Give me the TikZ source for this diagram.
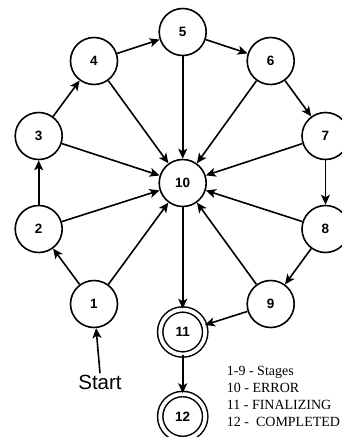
\documentclass[tikz,border=0pt]{standalone}
\usepackage{fontspec}
\setmainfont{Liberation Serif}
\setsansfont{Liberation Sans}
\usetikzlibrary{arrows.meta}
\tikzset{
  stage/.style={circle, draw, line width=1.6pt, minimum size=47pt, inner sep=0pt, font=\sffamily\bfseries\fontsize{13.5}{15}\selectfont},
  final/.style={stage, double distance=3.8pt, double=white, line width=1.5pt, minimum size=45pt},
  edge/.style={line width=1.6pt, -{Stealth[length=10pt,width=9pt,inset=2.5pt]}},
  legend/.style={anchor=base west, inner sep=0pt, font=\fontsize{14}{16}\selectfont}
}
\begin{document}
\begin{tikzpicture}[x=1pt,y=-1pt]
\useasboundingbox (0,0) rectangle (342,437);
\clip (0,0) rectangle (342,437);
\node[stage] (n1) at (94,304) {1};
\node[stage] (n2) at (38.7,229) {2};
\node[stage] (n3) at (38.7,136) {3};
\node[stage] (n4) at (94,61) {4};
\node[stage] (n5) at (182.7,32) {5};
\node[stage] (n6) at (270.7,61) {6};
\node[stage] (n7) at (325.5,136) {7};
\node[stage] (n8) at (325.5,229) {8};
\node[stage] (n9) at (270.7,304) {9};
\node[stage] (n10) at (182.7,183) {10};
\node[final] (n11) at (182.7,332) {11};
\node[final] (n12) at (182.7,416.5) {12};
\node[inner sep=2pt, font=\sffamily\fontsize{20.5}{22}\selectfont] (start) at (100,382.7) {Start};

\draw[edge] (start.north) -- (n1);
\draw[edge] (n1) -- (n2);
\draw[edge] (n1) -- (n10);
\draw[edge] (n2) -- (n3);
\draw[edge] (n2) -- (n10);
\draw[edge] (n3) -- (n4);
\draw[edge] (n3) -- (n10);
\draw[edge] (n4) -- (n5);
\draw[edge] (n4) -- (n10);
\draw[edge] (n5) -- (n6);
\draw[edge] (n5) -- (n10);
\draw[edge] (n6) -- (n7);
\draw[edge] (n6) -- (n10);
\draw[edge] (n7) -- (n8);
\draw[edge] (n7) -- (n10);
\draw[edge] (n8) -- (n9);
\draw[edge] (n8) -- (n10);
\draw[edge] (n9) -- (n10);
\draw[edge] (n9) -- (n11);
\draw[edge] (n10) -- (n11);
\draw[edge] (n11) -- (n12);

\node[legend] (l1) at (226.7,375) {1-9 - Stages};
\node[legend] (l2) at (226.7,392) {10 - ERROR};
\node[legend] (l3) at (226.7,409) {11 - FINALIZING};
\node[legend] (l4) at (226.7,426) {12 -\ \ COMPLETED};
\end{tikzpicture}
\end{document}
